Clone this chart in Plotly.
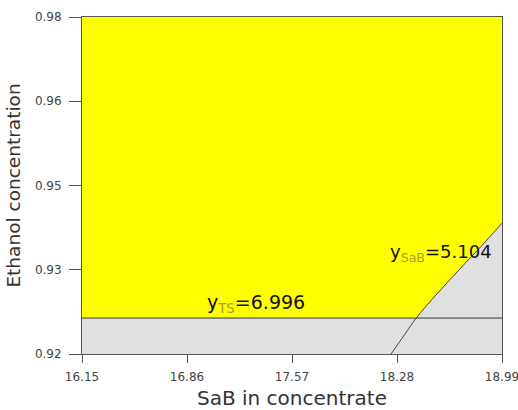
import plotly.graph_objects as go

# Data
x_range = [16.15, 18.99]
y_range = [0.92, 0.98]
x_tick_vals = [16.15, 16.86, 17.57, 18.28, 18.99]
x_tick_text = ["16.15", "16.86", "17.57", "18.28", "18.99"]
y_tick_vals = [0.92, 0.935, 0.95, 0.965, 0.98]
y_tick_text = ["0.92", "0.93", "0.95", "0.96", "0.98"]
ts_level = 0.9264  # y_TS = 6.996 contour
sab_x = [18.24, 18.33, 18.41, 18.55, 18.70, 18.85, 18.99]
sab_y = [0.9200, 0.9234, 0.9264, 0.9307, 0.9350, 0.9392, 0.9433]

fig = go.Figure()

# yellow feasible region: above TS line and left of SaB curve
px = [x_range[0], x_range[1]]
py = [y_range[1], y_range[1]]
for xv, yv in reversed(list(zip(sab_x, sab_y))):
    if yv >= ts_level:
        px.append(xv)
        py.append(yv)
px += [x_range[0], x_range[0]]
py += [ts_level, y_range[1]]
fig.add_trace(go.Scatter(x=px, y=py, fill="toself", fillcolor="#ffff00",
                         mode="lines", line=dict(width=0), hoverinfo="skip",
                         showlegend=False))
# TS line
fig.add_trace(go.Scatter(x=x_range, y=[ts_level, ts_level], mode="lines",
                         line=dict(color="#333333", width=1), showlegend=False))
# SaB curve
fig.add_trace(go.Scatter(x=sab_x, y=sab_y, mode="lines", line_shape="spline",
                         line=dict(color="#444444", width=1), showlegend=False))

font = "DejaVu Sans, Arial, sans-serif"
fig.add_annotation(x=16.98, y=0.9290, xref="x", yref="y", xanchor="left",
                   text='y<sub><span style="color:#a89a30">TS</span></sub>=6.996',
                   showarrow=False, font=dict(family=font, size=19, color="#111111"))
fig.add_annotation(x=18.22, y=0.9379, xref="x", yref="y", xanchor="left",
                   text='y<sub><span style="color:#a89a30">SaB</span></sub>=5.104',
                   showarrow=False, font=dict(family=font, size=18, color="#111111"))

fig.update_layout(
    width=518, height=410,
    margin=dict(l=82, r=16, t=17, b=56, autoexpand=False),
    plot_bgcolor="#e0e0e0", paper_bgcolor="white",
    font=dict(family=font, color="#444444"),
)
fig.update_xaxes(range=x_range, tickvals=x_tick_vals, ticktext=x_tick_text,
                 ticks="outside", ticklen=8, tickcolor="#555555", automargin=False,
                 ticklabeloverflow="allow", ticklabelstandoff=4,
                 showline=True, linecolor="#555555", linewidth=1, mirror=True,
                 showgrid=False, zeroline=False, tickfont=dict(size=12, color="#444444"),
                 title=dict(text="SaB in concentrate", font=dict(size=20, color="#333333"), standoff=8))
fig.update_yaxes(range=y_range, tickvals=y_tick_vals, ticktext=y_tick_text,
                 ticks="outside", ticklen=12, tickcolor="#555555", automargin=False,
                 ticklabeloverflow="allow", ticklabelstandoff=5,
                 showline=True, linecolor="#555555", linewidth=1, mirror=True,
                 showgrid=False, zeroline=False, tickfont=dict(size=12, color="#444444"),
                 title=dict(text="Ethanol concentration", font=dict(size=18.5, color="#333333"), standoff=9))

fig.write_html("out.html")
